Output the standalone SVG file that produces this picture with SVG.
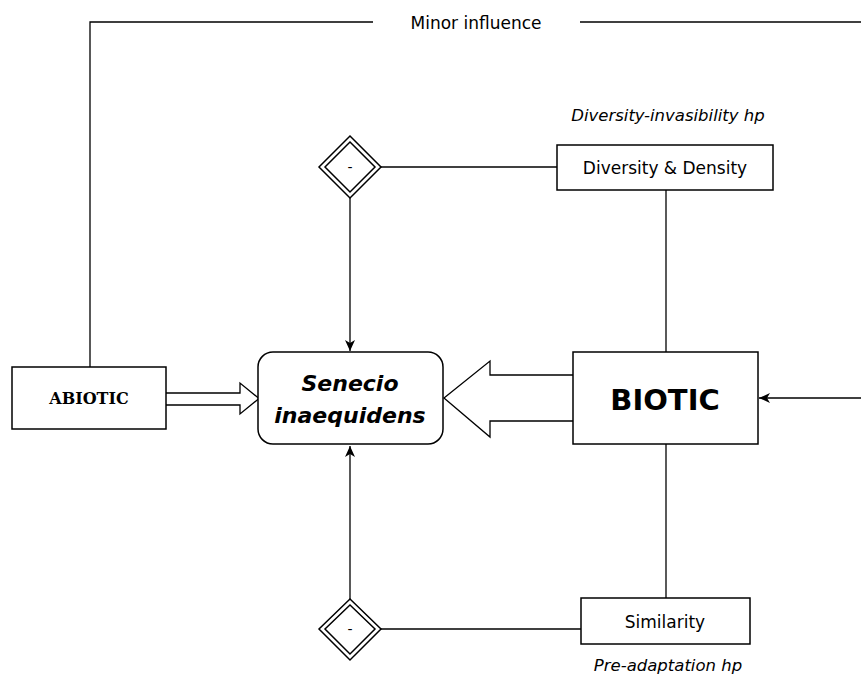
<svg xmlns="http://www.w3.org/2000/svg" width="861" height="680" viewBox="0 0 861 680">
<defs>
<style>
.ln{fill:none;stroke:#000;stroke-width:1.3}
.box{fill:#fff;stroke:#000;stroke-width:1.5}
.t{font-family:"DejaVu Sans",Verdana,sans-serif;font-size:17px;fill:#000;text-anchor:middle}
.it{font-style:italic;font-size:16.5px}
</style>
<marker id="ah" markerWidth="12" markerHeight="10" refX="11" refY="5" orient="auto" markerUnits="userSpaceOnUse">
<path d="M0,0 L11,5 L0,10 L3,5 Z" fill="#000"/>
</marker>
</defs>
<rect width="861" height="680" fill="#fff"/>
<g id="connectors">
<polyline class="ln" points="373,22 90,22 90,367"/>
<line class="ln" x1="580" y1="22" x2="861" y2="22"/>
<line class="ln" x1="381" y1="167" x2="557" y2="167"/>
<line class="ln" x1="666" y1="190" x2="666" y2="352"/>
<line class="ln" x1="350" y1="198" x2="350" y2="351" marker-end="url(#ah)"/>
<line class="ln" x1="666" y1="444" x2="666" y2="598"/>
<line class="ln" x1="381" y1="629" x2="581" y2="629"/>
<line class="ln" x1="350" y1="599" x2="350" y2="446" marker-end="url(#ah)"/>
<line class="ln" x1="861" y1="398" x2="759" y2="398" marker-end="url(#ah)"/>
<path class="ln" d="M166,393 H240 V383 L259,398.5 L240,414 V405 H166" fill="#fff"/>
<path class="ln" d="M573,375 H490 V361 L444,398 L490,437 V421 H573" fill="#fff"/>
<text class="t" x="476" y="29">Minor influence</text>
</g>
<g id="abiotic">
<rect class="box" x="12" y="367" width="154" height="62"/>
<text class="t" x="89" y="404" style="font-weight:bold;font-size:16px;font-family:'DejaVu Serif',serif">ABIOTIC</text>
</g>
<g id="senecio">
<rect class="box" x="258" y="352" width="185" height="92" rx="15"/>
<text class="t" x="350" y="391" style="font-weight:bold;font-style:italic;font-size:22px">Senecio</text>
<text class="t" x="350" y="423" style="font-weight:bold;font-style:italic;font-size:22px">inaequidens</text>
</g>
<g id="biotic">
<rect class="box" x="573" y="352" width="185" height="92"/>
<text class="t" x="665" y="410" style="font-weight:bold;font-size:29px">BIOTIC</text>
</g>
<g id="diversity">
<rect class="box" x="557" y="145" width="216" height="45"/>
<text class="t" x="665" y="174">Diversity &amp; Density</text>
<text class="t it" x="668" y="121">Diversity-invasibility hp</text>
</g>
<g id="similarity">
<rect class="box" x="581" y="598" width="169" height="46"/>
<text class="t" x="665" y="628">Similarity</text>
<text class="t it" x="668" y="671">Pre-adaptation hp</text>
</g>
<g id="diamond-top">
<path class="box" d="M350,136 L381,167 L350,198 L319,167 Z"/>
<path class="box" d="M350,142 L375,167 L350,192 L325,167 Z"/>
<text class="t" x="350" y="172" style="font-size:14px">-</text>
</g>
<g id="diamond-bottom">
<path class="box" d="M350,599 L381,629 L350,660 L319,629 Z"/>
<path class="box" d="M350,605 L375,629 L350,654 L325,629 Z"/>
<text class="t" x="350" y="634" style="font-size:14px">-</text>
</g>
</svg>
